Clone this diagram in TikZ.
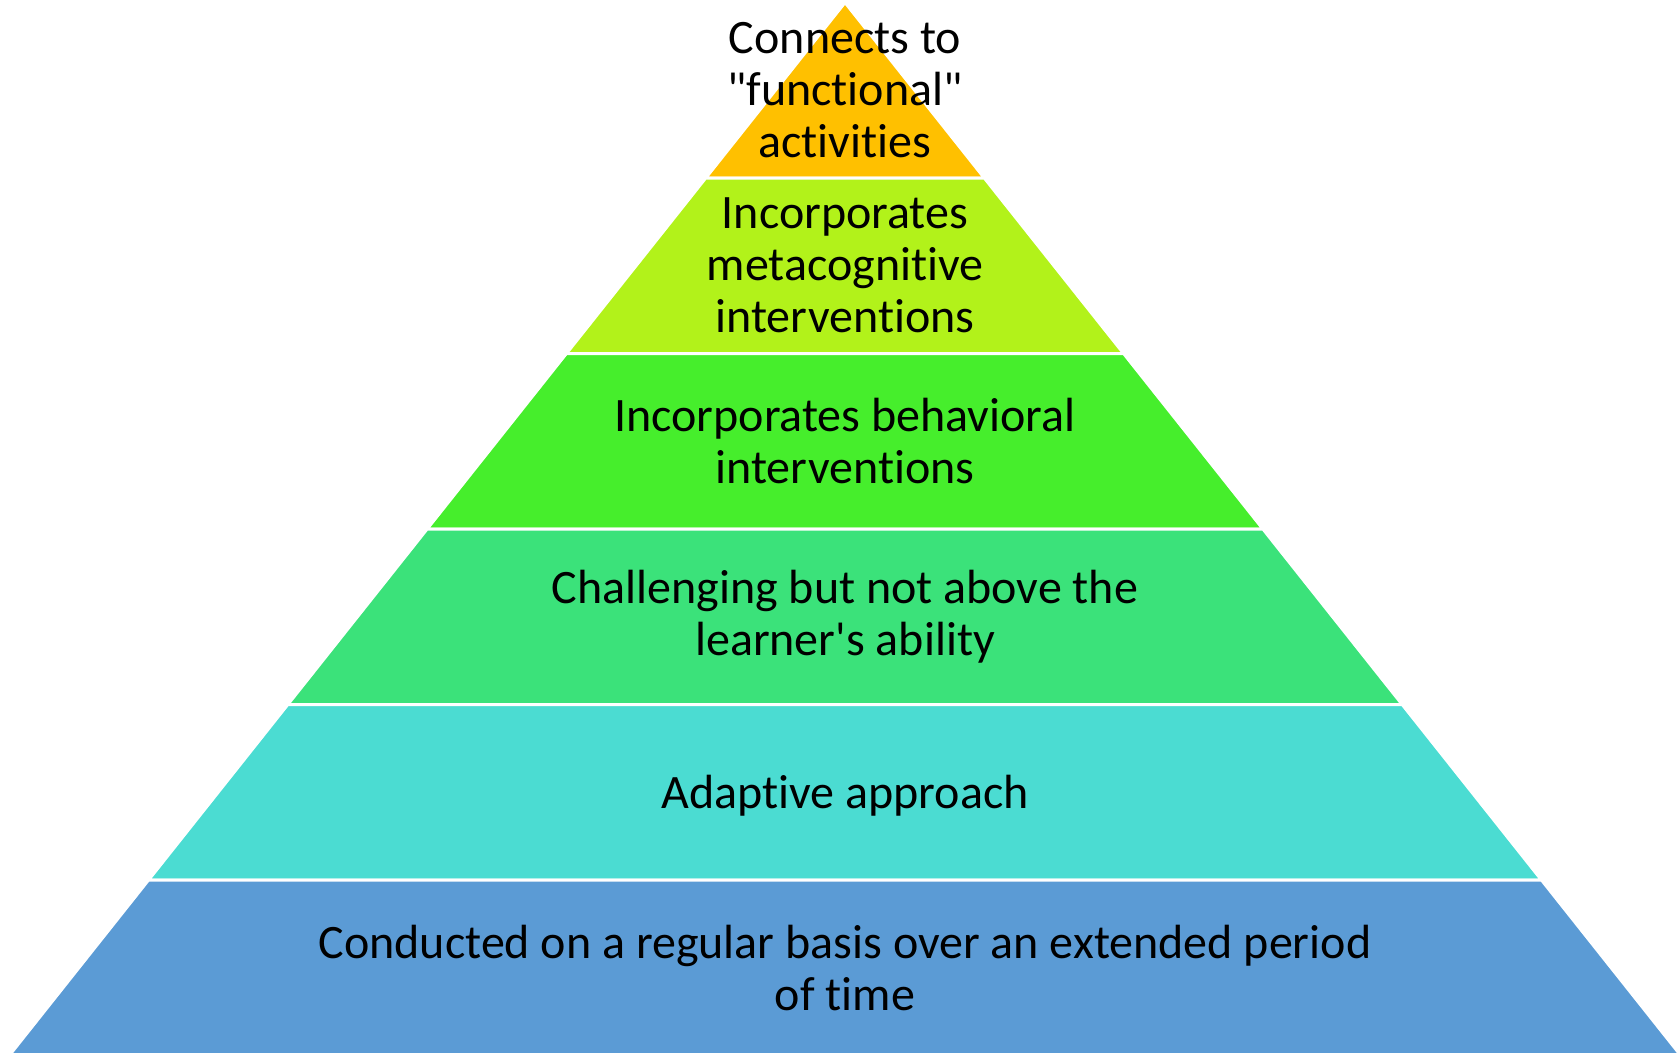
\documentclass[tikz,border=0pt]{standalone}
\usepackage{fontspec}
\setmainfont{Carlito}[Ligatures={TeXOff,NoCommon}]

\definecolor{bandA}{HTML}{FFC000}
\definecolor{bandB}{HTML}{B2F21A}
\definecolor{bandC}{HTML}{46EE2C}
\definecolor{bandD}{HTML}{3BE27A}
\definecolor{bandE}{HTML}{4BDCD2}
\definecolor{bandF}{HTML}{5B9BD5}

\tikzset{
  band/.style = {draw=white, line width=3pt, line join=miter},
  label/.style = {align=center, text=black, font=\fontsize{48}{52}\selectfont}
}

\begin{document}
\begin{tikzpicture}[x=1pt, y=-1pt]
%
%Koordinaten

\def \xa {845}     % Spitze
\def \ya {2.5}
\def \dy {175.5}   % Hoehe einer Stufe
\def \m  {0.7937}  % Steigung der Flanken

\useasboundingbox (0,0) rectangle (1677,1052);
\clip (0,0) rectangle (1677,1052);

\coordinate (apex) at (\xa,\ya);

%Stufen
\foreach \i/\col in {1/bandA,2/bandB,3/bandC,4/bandD,5/bandE,6/bandF}{
	\pgfmathsetmacro\yt{\ya+(\i-1)*\dy}
	\pgfmathsetmacro\yb{\ya+\i*\dy}
	\pgfmathsetmacro\wt{(\yt-\ya)*\m}
	\pgfmathsetmacro\wb{(\yb-\ya)*\m}
	\fill[\col, band] (\xa-\wt,\yt) -- (\xa+\wt,\yt) -- (\xa+\wb,\yb) -- (\xa-\wb,\yb) -- cycle;
	\coordinate (m\i) at (\xa,{\ya+(\i-0.5)*\dy});
}

%Texte
\node [label] (functional) at (m1) {Connects to\\"functional"\\activities};
\node [label] (metacog) at (m2) {Incorporates\\metacognitive\\interventions};
\node [label] (behav) at (m3) {Incorporates behavioral\\interventions};
\node [label] (challenge) at (m4) {Challenging but not above the\\learner's ability};
\node [label] (adaptive) at ([yshift=-3pt]m5) {Adaptive approach};
\node [label] (regular) at (m6) {Conducted on a regular basis over an extended period\\of time};

\end{tikzpicture}
\end{document}
